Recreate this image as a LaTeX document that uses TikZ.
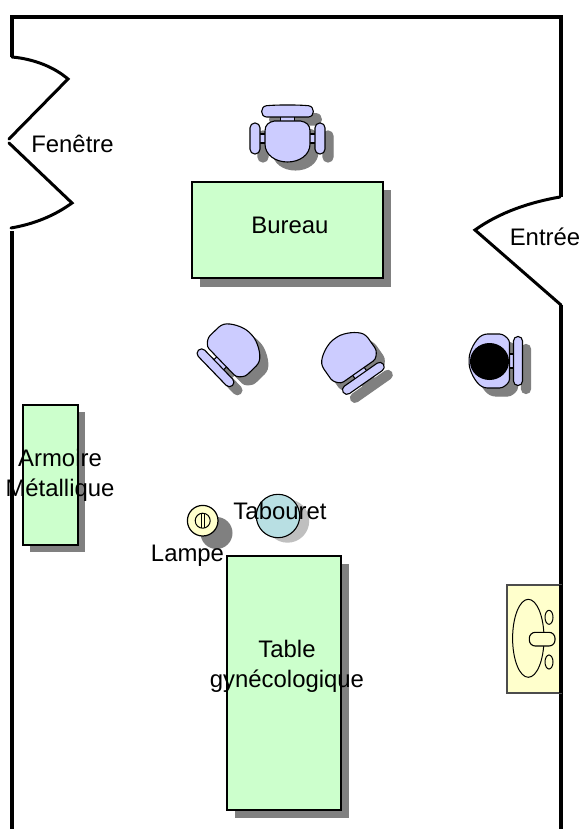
\documentclass[tikz,border=0pt]{standalone}
\usepackage{fontspec}
\setmainfont{Liberation Sans}
\definecolor{furn}{HTML}{CCFFCC}
\definecolor{seatc}{HTML}{CCCCFF}
\definecolor{shad}{HTML}{808080}
\definecolor{pale}{HTML}{FFFFCC}
\definecolor{stool}{HTML}{B8DFE3}
\tikzset{
  wall/.style={line width=4pt,line cap=butt,line join=miter},
  leaf/.style={line width=3pt,line cap=round},
  furniture/.style={draw=black,line width=1.3pt,fill=furn},
  lbl/.style={font=\fontsize{23.9}{30}\selectfont,align=center,text=black,inner sep=0pt},
  chairpart/.style={draw=black,line width=1.1pt,fill=seatc,line join=round},
  chairshadow/.style={draw=shad,line width=1.1pt,fill=shad},
}
% seat + link + single bar, centred on the seat; the back points to local "up"
\newcommand{\sidechairparts}[1]{%
  \path[#1] (-7,-25) rectangle (7,-19);
  \path[#1,rounded corners=4.4pt] (-24.5,-33) rectangle (24.5,-24);
  \path[#1,rounded corners=3pt] (-21,-20) -- (21,-20) -- (27,-13) -- (27,5)
     .. controls (22,14) and (10,20) .. (0,20.5)
     .. controls (-10,20) and (-22,14) .. (-27,5) -- (-27,-13) -- cycle;
}
\newcommand{\sidechair}[3]{%
  \begin{scope}[shift={(#1+8,#2+8)},rotate=#3]\sidechairparts{chairshadow}\end{scope}
  \begin{scope}[shift={(#1,#2)},rotate=#3]\sidechairparts{chairpart}\end{scope}
}
\newcommand{\deskchairparts}[1]{%
  \path[#1] (-7,-24) rectangle (7,-18);
  \path[#1] (-28,-6) rectangle (28,3);
  \path[#1,rounded corners=4.8pt] (-37.5,-17) rectangle (-27.5,14);
  \path[#1,rounded corners=4.8pt] (27.5,-17) rectangle (37.5,14);
  \path[#1] (-21,-34.3) .. controls (-10,-35.3) and (10,-35.3) .. (21,-34.3)
     .. controls (27.5,-33.5) and (27.5,-23.5) .. (21,-23) -- (-21,-23)
     .. controls (-27.5,-23.5) and (-27.5,-33.5) .. (-21,-34.3) -- cycle;
  \path[#1] (-13,-19) -- (13,-19) .. controls (19,-18) and (22.5,-15) .. (22.5,-9) -- (22.5,4)
     .. controls (22.5,15) and (12,22) .. (0,22) .. controls (-12,22) and (-22.5,15) .. (-22.5,4)
     -- (-22.5,-9) .. controls (-22.5,-15) and (-19,-18) .. (-13,-19) -- cycle;
}
\begin{document}
\begin{tikzpicture}[x=1pt,y=-1pt]
\useasboundingbox (0,0) rectangle (580,829);
\fill[white] (0,0) rectangle (580,829);
% shadows of rectangles
\fill[shad] (200,190) rectangle (391,287);
\fill[shad] (30,412) rectangle (85,552);
\fill[shad] (235,564) rectangle (349,818);
% walls
\draw[wall] (12,57) -- (12,17) -- (561,17) -- (561,197);
\draw[wall] (12,231) -- (12,829);
\draw[wall] (561,305) -- (561,829);
% window
\draw[leaf] (12,57) .. controls (34,59) and (54,67) .. (68,79) -- (9,139);
\draw[leaf] (9,143) -- (72,203) .. controls (54,216) and (34,224) .. (11,228);
% door
\draw[leaf] (560,197) .. controls (531,202) and (500,212) .. (475,230) -- (561,305);
% furniture
\draw[furniture] (192,182) rectangle (383,278);
\draw[furniture] (23,405) rectangle (78,545);
\draw[furniture] (227,556) rectangle (341,810);
% desk chair
\begin{scope}[shift={(295.5,148)}]\deskchairparts{chairshadow}\end{scope}
\begin{scope}[shift={(287.5,140)}]\deskchairparts{chairpart}\end{scope}
% other chairs
\sidechair{236}{348}{134}
\sidechair{347}{355}{-145}
\sidechair{489.5}{361}{-90}
\fill[black] (489.5,361.5) ellipse [x radius=19.5,y radius=18.5];
% lamp
\fill[shad] (216.5,533) circle (16);
\draw[black,line width=1.2pt,fill=pale] (202.7,520.7) circle (15.3);
\draw[black,line width=1pt] (202.7,520.7) circle (7.5);
\draw[black,line width=1pt] (201,513.5) -- (201,528) (204.5,513.5) -- (204.5,528);
% stool
\fill[black!25] (287.5,521) circle (21.7);
\draw[black,line width=1.1pt,fill=stool] (278,516) circle (21.7);
% sink
\draw[black!70,line width=1.1pt,fill=pale] (507,585) rectangle (561,693);
\draw[black,line width=1pt] (528.3,638.3) ellipse [x radius=15.7,y radius=39];
\draw[black,line width=1pt] (549,617.3) ellipse [x radius=4,y radius=7];
\draw[black,line width=1pt] (549,662) ellipse [x radius=4,y radius=7];
\draw[black,line width=1.1pt,fill=pale,rounded corners=6pt] (529.3,632.3) rectangle (555,646);
% redraw right wall over the sink edge
\draw[wall] (561,585) -- (561,693);
% labels
\node[lbl] (fenetre) at (72.5,144) {Fenêtre};
\node[lbl] (entree) at (545,237) {Entrée};
\node[lbl] (bureau) at (290,225) {Bureau};
\node[lbl] (armoire) at (60,475) {Armoire\\Métallique};
\node[lbl] (tabouret) at (280,511) {Tabouret};
\node[lbl] (lampe) at (187.5,556) {Lampe};
\node[lbl] (table) at (287,666) {Table\\gynécologique};
\end{tikzpicture}
\end{document}
